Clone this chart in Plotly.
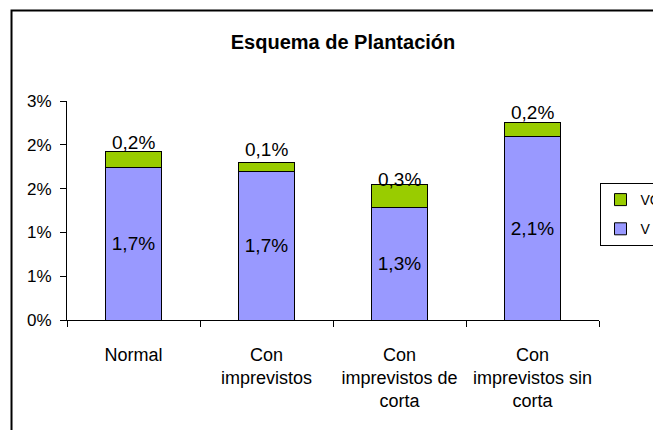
import plotly.graph_objects as go

categories = ["Normal", "Con<br>imprevistos", "Con<br>imprevistos de<br>corta", "Con<br>imprevistos sin<br>corta"]
v_values = [1.74, 1.70, 1.28, 2.09]
vcr_values = [0.18, 0.10, 0.27, 0.16]
tick_vals = [0, 0.5, 1.0, 1.5, 2.0, 2.5]
tick_text = ["0%", "1%", "1%", "2%", "2%", "3%"]

FONT = "Arial, Liberation Sans, sans-serif"
OFF = 8  # page body margin offset

fig = go.Figure()
fig.add_trace(go.Bar(
    name="V", x=categories, y=v_values,
    marker=dict(color="#9999FF", line=dict(color="black", width=1)),
    texttemplate="%{y:.1f}%", textposition="inside", insidetextanchor="middle",
    textfont=dict(family=FONT, size=19, color="black"), constraintext="none",
    legendgroup="v", legendrank=2, hoverinfo="skip",
))
fig.add_trace(go.Bar(
    name="VCR", x=categories, y=vcr_values,
    marker=dict(color="#99CC00", line=dict(color="black", width=1)),
    legendgroup="vcr", legendrank=1, hoverinfo="skip",
))

for c, v, r in zip(categories, v_values, vcr_values):
    fig.add_annotation(
        x=c, y=v + r / 2, xref="x", yref="y",
        text=f"{r:.1f}%".replace(".", ","), showarrow=False, yshift=17,
        font=dict(family=FONT, size=19, color="black"),
    )

fig.add_shape(type="rect", xref="paper", yref="paper",
              x0=-0.1043, x1=1.3, y0=-0.8, y1=1.4132,
              line=dict(color="black", width=2), fillcolor="rgba(0,0,0,0)")

W, H = 661, 430
L, T = 67 - OFF, 101 - OFF
PW, PH = 532, 219
R = W - L - PW

fig.update_layout(
    width=W, height=H,
    barmode="stack", bargap=0.58,
    separators=",.",
    paper_bgcolor="white", plot_bgcolor="white",
    margin=dict(l=L, r=R, t=T, b=H - T - PH, pad=0),
    font=dict(family=FONT, color="black"),
    title=dict(text="<b>Esquema de Plantación</b>", x=(343 - OFF) / W, xanchor="center",
               y=1 - (42 - OFF) / H, yanchor="middle", xref="container", yref="container",
               font=dict(family=FONT, size=20, color="black")),
    showlegend=True,
    legend=dict(xref="container", yref="container",
                x=(W - R + 0.5) / W, y=1 - (183 - OFF) / H, xanchor="left", yanchor="top",
                bordercolor="black", borderwidth=1, bgcolor="white",
                traceorder="grouped", tracegroupgap=8,
                font=dict(family=FONT, size=14, color="black"), itemwidth=30),
    xaxis=dict(showline=True, linecolor="black", linewidth=1, ticks="outside",
               tickson="boundaries", ticklen=6, tickcolor="black", tickangle=0,
               tickfont=dict(family=FONT, size=18, color="black"),
               ticklabelstandoff=18, showgrid=False, fixedrange=True, automargin=False),
    yaxis=dict(range=[0, 2.5], tickvals=tick_vals, ticktext=tick_text,
               showline=True, linecolor="black", linewidth=1, ticks="outside",
               ticklen=6, tickcolor="black", showgrid=False, zeroline=False,
               ticklabelstandoff=5,
               tickfont=dict(family=FONT, size=17, color="black"), fixedrange=True,
               automargin=False),
)

fig.write_html("out.html")
